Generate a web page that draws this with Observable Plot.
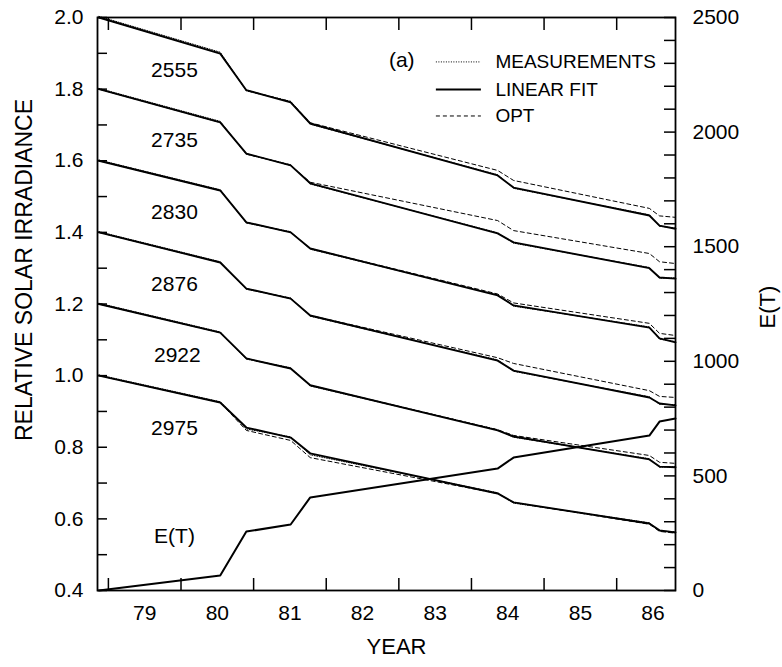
<!DOCTYPE html>
<html>
<head>
<meta charset="utf-8">
<script src="https://cdn.jsdelivr.net/npm/d3@7"></script>
<script src="https://cdn.jsdelivr.net/npm/@observablehq/plot@0.6"></script>
<style>
  body { margin: 0; background: #fff; }
  #chart svg { display: block; }
</style>
</head>
<body>
<div id="chart"></div>
<script>
// ---- data ----
const years = [78.87, 80.54, 80.90, 81.51, 81.78, 84.36, 84.58, 86.45, 86.59, 86.81];
const wavelengths = ["2555", "2735", "2830", "2876", "2922", "2975"];

const fit2555 = [2.000, 1.899, 1.797, 1.763, 1.704, 1.559, 1.525, 1.447, 1.419, 1.410];
const fit2735 = [1.800, 1.707, 1.620, 1.587, 1.537, 1.397, 1.372, 1.300, 1.274, 1.271];
const fit2830 = [1.600, 1.517, 1.428, 1.400, 1.355, 1.224, 1.196, 1.134, 1.104, 1.093];
const fit2876 = [1.400, 1.316, 1.243, 1.215, 1.168, 1.042, 1.014, 0.939, 0.922, 0.917];
const fit2922 = [1.200, 1.120, 1.048, 1.020, 0.973, 0.847, 0.830, 0.766, 0.746, 0.744];
const fit2975 = [1.000, 0.925, 0.855, 0.827, 0.783, 0.671, 0.646, 0.587, 0.568, 0.562];

const opt2555 = [2.000, 1.900, 1.797, 1.765, 1.706, 1.573, 1.545, 1.467, 1.446, 1.442];
const opt2735 = [1.800, 1.707, 1.620, 1.587, 1.540, 1.433, 1.405, 1.341, 1.318, 1.313];
const opt2830 = [1.600, 1.517, 1.428, 1.400, 1.355, 1.228, 1.203, 1.146, 1.118, 1.112];
const opt2876 = [1.400, 1.316, 1.243, 1.215, 1.168, 1.050, 1.034, 0.958, 0.942, 0.939];
const opt2922 = [1.200, 1.120, 1.048, 1.020, 0.973, 0.849, 0.833, 0.777, 0.758, 0.755];
const opt2975 = [1.000, 0.925, 0.847, 0.819, 0.771, 0.671, 0.646, 0.585, 0.565, 0.560];

const meas2555 = [2.003, 1.903, 1.795, 1.766, 1.702, 1.561, 1.523, 1.449, 1.417, 1.412];
const meas2735 = [1.802, 1.710, 1.618, 1.589, 1.535, 1.399, 1.370, 1.302, 1.272, 1.273];
const meas2830 = [1.602, 1.519, 1.426, 1.402, 1.353, 1.226, 1.194, 1.136, 1.102, 1.095];
const meas2876 = [1.402, 1.318, 1.241, 1.217, 1.166, 1.044, 1.012, 0.941, 0.920, 0.919];
const meas2922 = [1.202, 1.122, 1.046, 1.022, 0.971, 0.849, 0.828, 0.768, 0.744, 0.746];
const meas2975 = [1.002, 0.927, 0.851, 0.829, 0.779, 0.673, 0.644, 0.589, 0.566, 0.564];

const eT = [0, 65, 257, 288, 406, 532, 580, 676, 737, 750];

const yearTicks = [79, 80, 81, 82, 83, 84, 85, 86];
const leftLabels = [0.4, 0.6, 0.8, 1.0, 1.2, 1.4, 1.6, 1.8, 2.0];
const leftMinor = [0.4, 0.5, 0.6, 0.7, 0.8, 0.9, 1.0, 1.1, 1.2, 1.3, 1.4, 1.5, 1.6, 1.7, 1.8, 1.9, 2.0];
const rightLabels = [0, 500, 1000, 1500, 2000, 2500];
const rightMinor = [0, 100, 200, 300, 400, 500, 600, 700, 800, 900, 1000, 1100, 1200, 1300, 1400,
  1500, 1600, 1700, 1800, 1900, 2000, 2100, 2200, 2300, 2400, 2500];

const seriesLabels = [
  {text: "2555", x: 79.91, y: 1.852},
  {text: "2735", x: 79.91, y: 1.657},
  {text: "2830", x: 79.91, y: 1.455},
  {text: "2876", x: 79.91, y: 1.254},
  {text: "2922", x: 79.95, y: 1.056},
  {text: "2975", x: 79.91, y: 0.852},
  {text: "E(T)", x: 79.91, y: 0.551}
];

// ---- build tables ----
const fits = [fit2555, fit2735, fit2830, fit2876, fit2922, fit2975];
const opts = [opt2555, opt2735, opt2830, opt2876, opt2922, opt2975];
const meas = [meas2555, meas2735, meas2830, meas2876, meas2922, meas2975];
function rows(arrs) {
  return arrs.flatMap((a, i) => a.map((v, j) => ({w: wavelengths[i], year: years[j], v})));
}
const fitRows = rows(fits), optRows = rows(opts), measRows = rows(meas);

// right axis E(T) shares pixel range with left axis: [0,2500] <-> [0.4,2.0]
const E2L = e => 0.4 + e * 1.6 / 2500;
const L2E = v => String(Math.round((v - 0.4) * 2500 / 1.6));
const eRows = eT.map((e, j) => ({year: years[j], v: E2L(e)}));

const legendRows = [
  {label: "MEASUREMENTS", y: 1.876},
  {label: "LINEAR FIT", y: 1.799},
  {label: "OPT", y: 1.725}
];
const lx1 = 83.51, lx2 = 84.13, ltx = 84.33;

const FONT = "'Liberation Sans', Arial, Helvetica, sans-serif";

const plot = Plot.plot({
  width: 782,
  height: 667,
  marginLeft: 97,
  marginRight: 107,
  marginTop: 17,
  marginBottom: 77,
  style: {fontFamily: FONT, fontSize: "21px", color: "#000", background: "#fff"},
  x: {domain: [78.85, 86.81], axis: null},
  y: {domain: [0.4, 2.0], axis: null},
  marks: [
    // data lines
    Plot.line(measRows, {x: "year", y: "v", z: "w", stroke: "#000", strokeWidth: 1, strokeDasharray: "1,1.5"}),
    Plot.line(fitRows, {x: "year", y: "v", z: "w", stroke: "#000", strokeWidth: 1.9}),
    Plot.line(optRows, {x: "year", y: "v", z: "w", stroke: "#000", strokeWidth: 1, strokeDasharray: "4,3"}),
    Plot.line(eRows, {x: "year", y: "v", stroke: "#000", strokeWidth: 2}),

    // frame
    Plot.frame({stroke: "#000", strokeWidth: 1.8}),

    // x axis: inward ticks at year boundaries (top & bottom), labels mid-year
    Plot.axisX(yearTicks, {anchor: "bottom", tickSize: -12, tickFormat: () => "", label: null, strokeWidth: 1.5}),
    Plot.axisX(yearTicks, {anchor: "top", tickSize: -12, tickFormat: () => "", label: null, strokeWidth: 1.5}),
    Plot.axisX(yearTicks.map(d => d + 0.5), {anchor: "bottom", tickSize: 0, tickPadding: 15,
      tickFormat: d => String(Math.floor(d)), label: null, fontSize: 21}),

    // left axis
    Plot.axisY(leftMinor, {anchor: "left", tickSize: -10, tickFormat: () => "", label: null, strokeWidth: 1.5}),
    Plot.axisY(leftLabels, {anchor: "left", tickSize: 0, tickPadding: 14, tickFormat: d3.format(".1f"), label: null, fontSize: 21}),

    // right axis (E(T))
    Plot.axisY(rightMinor.map(E2L), {anchor: "right", tickSize: -12, tickFormat: () => "", label: null, strokeWidth: 1.5}),
    Plot.axisY(rightLabels.map(E2L), {anchor: "right", tickSize: 0, tickPadding: 17, tickFormat: L2E, label: null, fontSize: 21}),

    // axis titles
    Plot.text(["RELATIVE SOLAR IRRADIANCE"], {frameAnchor: "left", textAnchor: "middle", dx: -73, dy: -34, rotate: -90, fontSize: 23, fill: "#000"}),
    Plot.text(["YEAR"], {frameAnchor: "bottom", textAnchor: "middle", dy: 63, dx: 10, fontSize: 22, fill: "#000"}),
    Plot.text(["E(T)"], {frameAnchor: "right", textAnchor: "middle", dx: 92, dy: 3, rotate: -90, fontSize: 22, fill: "#000"}),

    // series labels
    Plot.text(seriesLabels, {x: "x", y: "y", text: "text", fontSize: 21, fill: "#000"}),

    // panel tag and legend
    Plot.text(["(a)"], {x: 83.04, y: 1.88, fontSize: 21, fill: "#000"}),
    Plot.link([legendRows[0]], {x1: lx1, x2: lx2, y1: "y", y2: "y", stroke: "#000", strokeWidth: 1, strokeDasharray: "1,1.5"}),
    Plot.link([legendRows[1]], {x1: lx1, x2: lx2, y1: "y", y2: "y", stroke: "#000", strokeWidth: 1.9}),
    Plot.link([legendRows[2]], {x1: lx1, x2: lx2, y1: "y", y2: "y", stroke: "#000", strokeWidth: 1, strokeDasharray: "4,3"}),
    Plot.text(legendRows, {x: ltx, y: "y", text: "label", textAnchor: "start", fontSize: 19, fill: "#000"})
  ]
});
document.getElementById("chart").appendChild(plot);
</script>
</body>
</html>
